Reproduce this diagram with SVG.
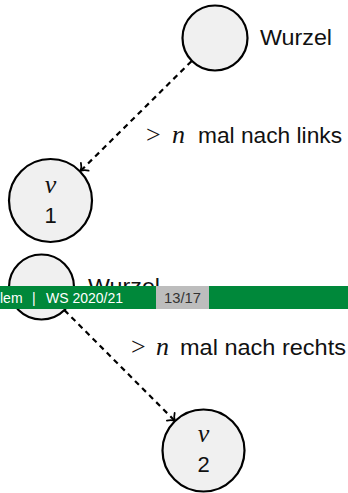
<svg xmlns="http://www.w3.org/2000/svg" width="348" height="493" viewBox="0 0 348 493">
<style>
.node{fill:#f0f0f0;stroke:#000;stroke-width:2.2}
.lbl{font-family:"Liberation Sans","DejaVu Sans",sans-serif;font-size:22px;fill:#111}
.math{font-family:"Liberation Serif","DejaVu Serif",serif;font-size:26px;fill:#111}
.mi{font-style:italic}
.edge{stroke:#000;stroke-width:2.2;fill:none;stroke-dasharray:5.5 4.5}
.foot{font-family:"Liberation Sans","DejaVu Sans",sans-serif;font-size:14px}
</style>
<defs>
<marker id="to" markerUnits="userSpaceOnUse" refX="0" refY="0" orient="auto" overflow="visible" markerWidth="12" markerHeight="12">
<path d="M-6,-5.5 C-4,-2.2 -1.3,-0.5 0,0 C-1.3,0.5 -4,2.2 -6,5.5" fill="none" stroke="#000" stroke-width="1.8" stroke-linecap="round"/>
</marker>
</defs>
<rect width="348" height="493" fill="#fff"/>
<g id="edges">
<line class="edge" x1="191.5" y1="61.2" x2="80.5" y2="171" marker-end="url(#to)"/>
<line class="edge" x1="64.4" y1="310.1" x2="175" y2="421" marker-end="url(#to)"/>
</g>
<g id="root1">
<circle class="node" cx="215" cy="38" r="32.5"/>
<text class="lbl" x="260" y="45" textLength="72" lengthAdjust="spacingAndGlyphs">Wurzel</text>
</g>
<g id="v1">
<circle class="node" cx="50.5" cy="200.5" r="41.5"/>
<text class="math mi" x="50.5" y="193" text-anchor="middle">v</text>
<text class="lbl" x="50.5" y="223" text-anchor="middle">1</text>
</g>
<g id="label1">
<text class="math" x="146" y="143">&gt;</text>
<text class="math mi" x="172" y="143">n</text>
<text class="lbl" x="198" y="143" textLength="144" lengthAdjust="spacingAndGlyphs">mal nach links</text>
</g>
<g id="root2">
<circle class="node" cx="41.5" cy="287" r="32.5"/>
<text class="lbl" x="88" y="294" textLength="72" lengthAdjust="spacingAndGlyphs">Wurzel</text>
</g>
<g id="label2">
<text class="math" x="131" y="355">&gt;</text>
<text class="math mi" x="156" y="355">n</text>
<text class="lbl" x="180" y="355" textLength="166" lengthAdjust="spacingAndGlyphs">mal nach rechts</text>
</g>
<g id="v2">
<circle class="node" cx="203.5" cy="450.5" r="41"/>
<text class="math mi" x="203.5" y="442" text-anchor="middle">v</text>
<text class="lbl" x="203.5" y="472" text-anchor="middle">2</text>
</g>
<g id="footer">
<rect x="0" y="286" width="348" height="23" fill="#00883a"/>
<rect x="156" y="286" width="53" height="23" fill="#bdbdbd"/>
<text class="foot" x="0" y="303" fill="#fff">lem</text>
<text class="foot" x="32" y="303" fill="#fff">|</text>
<text class="foot" x="46" y="303" fill="#fff" textLength="77" lengthAdjust="spacingAndGlyphs">WS 2020/21</text>
<text class="foot" x="164" y="303" fill="#333" textLength="37" lengthAdjust="spacingAndGlyphs">13/17</text>
</g>
</svg>
